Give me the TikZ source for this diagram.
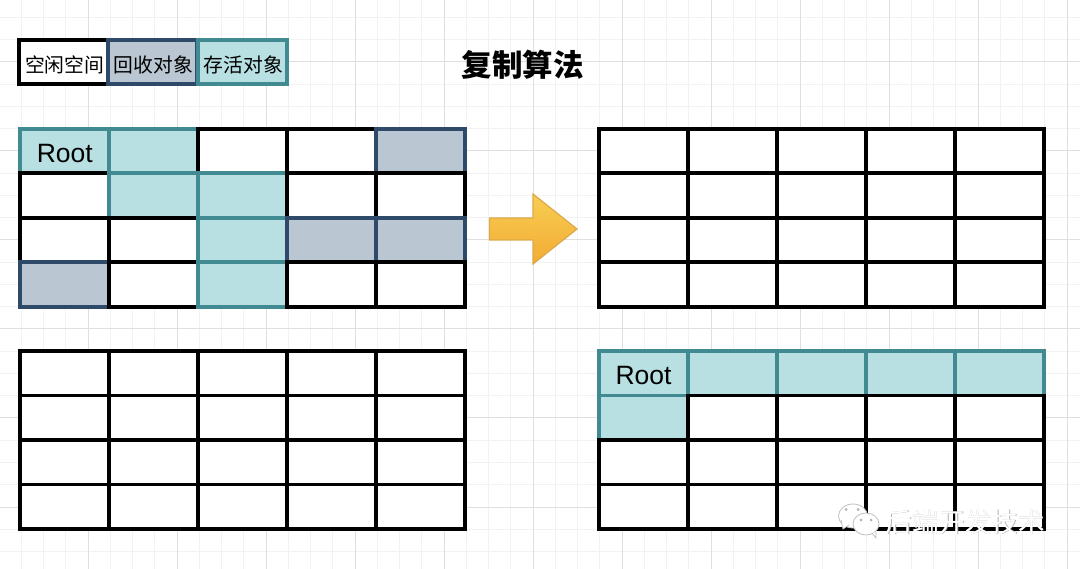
\documentclass[tikz,border=0pt]{standalone}
\usepackage{fontspec}
\setmainfont{Liberation Sans}
\newfontfamily\cjk{Noto Sans CJK SC}
\definecolor{gridfine}{HTML}{F2F2F2}
\definecolor{gridbold}{HTML}{DFDFDF}
\definecolor{liveline}{HTML}{418A91}
\definecolor{livefill}{HTML}{B8E0E2}
\definecolor{deadline}{HTML}{2F4A68}
\definecolor{deadfill}{HTML}{BAC6D1}
\definecolor{arrowtop}{HTML}{F8CE52}
\definecolor{arrowbottom}{HTML}{F3AB35}
\definecolor{arrowline}{HTML}{DDA94A}
\tikzset{
	freecell/.style={draw=black,fill=white,line width=3.8pt,inner sep=0pt,outer sep=0pt,minimum width=89pt,minimum height=44.5pt},
	livecell/.style={freecell,draw=liveline,fill=livefill},
	deadcell/.style={freecell,draw=deadline,fill=deadfill},
	keycell/.style={minimum width=89.3pt,minimum height=44.7pt,font=\cjk\fontsize{19.8}{24}\selectfont},
	roottext/.style={font=\fontsize{26.5}{30}\selectfont},
	markbubble/.style={draw=gray!50,fill=white,line width=0.8pt}
}
\begin{document}
\begin{tikzpicture}[x=1pt,y=-1pt]
	\useasboundingbox (0,0) rectangle (1080,569);
	\fill[white] (0,0) rectangle (1080,569);
	% paper grid
	\foreach \n in {0,...,48}
		\draw[gridfine,line width=1pt] ({21.25+22.25*\n},0) -- ({21.25+22.25*\n},569);
	\foreach \n in {0,...,25}
		\draw[gridfine,line width=1pt] (0,{17.5+22.25*\n}) -- (1080,{17.5+22.25*\n});
	\foreach \n in {0,...,11}
		\draw[gridbold,line width=1pt] ({88+89*\n},0) -- ({88+89*\n},569);
	\foreach \n in {0,...,5}
		\draw[gridbold,line width=1pt] (0,{62+89*\n}) -- (1080,{62+89*\n});
	% tables, row by row so that later cells lie over earlier ones
	\foreach \r/\kinds in {0/{livecell,livecell,freecell,freecell,deadcell},
			1/{freecell,livecell,livecell,freecell,freecell},
			2/{freecell,freecell,livecell,deadcell,deadcell},
			3/{deadcell,freecell,livecell,freecell,freecell}}
		\foreach \kind [count=\c from 0] in \kinds
			\node[\kind] (a\c\r) at ({64.8+89*\c},{151+44.5*\r}) {};
	\foreach \r in {0,...,3}
		\foreach \c in {0,...,4}{
			\node[freecell] (b\c\r) at ({643.5+89*\c},{151+44.5*\r}) {};
			\node[freecell] (c\c\r) at ({64.8+89*\c},{373.2+44.5*\r}) {};
		}
	\foreach \r/\kinds in {0/{livecell,livecell,livecell,livecell,livecell},
			1/{livecell,freecell,freecell,freecell,freecell},
			2/{freecell,freecell,freecell,freecell,freecell},
			3/{freecell,freecell,freecell,freecell,freecell}}
		\foreach \kind [count=\c from 0] in \kinds
			\node[\kind] (d\c\r) at ({643.5+89*\c},{373.2+44.5*\r}) {};
	\node[roottext] (root1) at (64.8,153.5) {Root};
	\node[roottext] (root2) at (643.5,375.7) {Root};
	% key
	\node[freecell,keycell] (keyfree) at (64,62) {};
	\node[deadcell,keycell] (keydead) at (152.5,62) {};
	\node[livecell,keycell] (keylive) at (242.5,62) {};
	\node[keycell] (textfree) at (64.6,65) {空闲空间};
	\node[keycell] (textdead) at (153.5,65) {回收对象};
	\node[keycell] (textlive) at (243.2,65) {存活对象};
	\node[font=\cjk\bfseries\fontsize{30.5}{36}\selectfont] (title) at (522.5,65) {复制算法};
	% arrow between the tables
	\shade[top color=arrowtop,bottom color=arrowbottom,draw=arrowline,line width=1.2pt]
		(489.5,218) -- (533,218) -- (533,194) -- (577,229) -- (533,264) -- (533,240) -- (489.5,240) -- cycle;
	% bubbles and name in the corner
	\draw[markbubble] (853,516) ellipse (14.5pt and 12pt);
	\draw[markbubble] (841,520) -- (843,529) -- (849,525);
	\fill[gray!60] (846,509.5) circle (1.5pt) (858,509.5) circle (1.5pt);
	\draw[markbubble] (866,524) ellipse (13pt and 11pt);
	\draw[markbubble] (872,533) -- (876,538) -- (876,532);
	\fill[gray!60] (861,520) circle (1.5pt) (871,520) circle (1.5pt);
	\node[text=gray!60,font=\cjk\fontsize{26.5}{30}\selectfont] (markedge) at (965.6,522.5) {后端开发技术};
	\node[text=white,font=\cjk\fontsize{26.5}{30}\selectfont] (mark) at (965,522) {后端开发技术};
\end{tikzpicture}
\end{document}
